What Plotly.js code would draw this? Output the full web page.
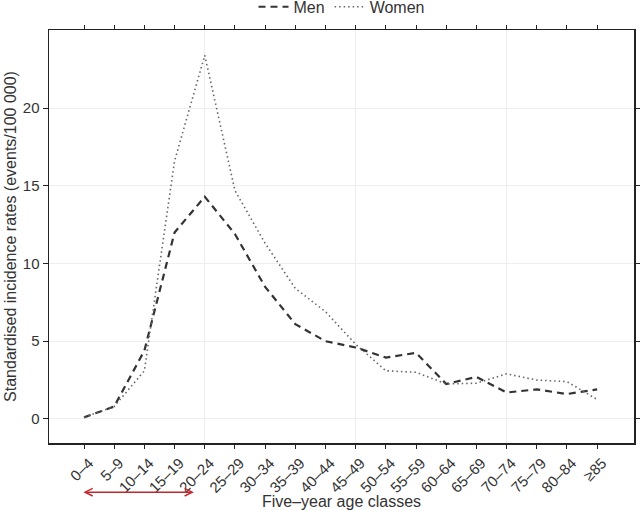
<!DOCTYPE html>
<html>
<head>
<meta charset="utf-8">
<script src="https://cdn.plot.ly/plotly-3.0.1.min.js"></script>
<style>body{margin:0;background:#fff}#chart{width:640px;height:510px}</style>
</head>
<body>
<div id="chart"></div>
<script>
// age classes and incidence rates per 100 000
const ageClasses = ['0–4','5–9','10–14','15–19','20–24','25–29','30–34','35–39','40–44','45–49',
  '50–54','55–59','60–64','65–69','70–74','75–79','80–84','≥85'];
const men   = [0.1, 0.8, 4.4, 12.0, 14.3, 11.9, 8.5, 6.1, 5.0, 4.6, 3.95, 4.25, 2.25, 2.7, 1.7, 1.9, 1.6, 1.9];
const women = [0.1, 0.8, 3.1, 16.6, 23.4, 14.7, 11.3, 8.4, 6.9, 4.8, 3.1, 3.0, 2.25, 2.3, 2.9, 2.5, 2.4, 1.25];
const gridCats = [4, 9, 14];
const idx = ageClasses.map((_, i) => i);

const FONT = 'Liberation Sans, Arial, sans-serif';

const traces = [
  // invisible trace so the grid axis is drawn
  {x: [0], y: [0], xaxis: 'x2', mode: 'markers', marker: {opacity: 0}, showlegend: false, hoverinfo: 'skip'},
  {x: idx, y: men, mode: 'lines', name: 'Men', line: {color: '#333', width: 2.2, dash: '7px,5px'}},
  {x: idx, y: women, mode: 'lines', name: 'Women', line: {color: '#666', width: 1.6, dash: '1.5px,3px'}}
];

const layout = {
  width: 640, height: 510,
  margin: {l: 49, r: 6, t: 30, b: 67, autoexpand: false},
  paper_bgcolor: '#fff', plot_bgcolor: '#fff',
  font: {family: FONT, color: '#333', size: 15},
  showlegend: true,
  legend: {orientation: 'h', x: 0.5, xanchor: 'center', y: 1.056, yanchor: 'middle',
    font: {size: 16}, itemwidth: 30},
  xaxis: {
    range: [-1.16, 18.22], tickvals: idx, ticktext: ageClasses, tickangle: -45,
    ticks: 'outside', ticklen: 4, tickcolor: '#222', showgrid: false, zeroline: false,
    showline: true, linecolor: '#222', linewidth: 1.5, mirror: 'ticks',
    tickfont: {size: 15, color: '#333'}, ticklabelshift: 5,
    title: {text: 'Five–year age classes', font: {size: 16}, standoff: 24}
  },
  xaxis2: {
    overlaying: 'x', range: [-1.16, 18.22], tickvals: gridCats, showticklabels: false,
    ticks: '', showgrid: true, gridcolor: '#eee', gridwidth: 1, zeroline: false, showline: false
  },
  yaxis: {
    range: [-1.55, 25.03], tickvals: [0, 5, 10, 15, 20], ticks: 'outside', ticklen: 5, tickcolor: '#222',
    showgrid: true, gridcolor: '#eee', zeroline: false,
    showline: true, linecolor: '#222', linewidth: 1.5, mirror: 'ticks',
    tickfont: {size: 15, color: '#333'},
    title: {text: 'Standardised incidence rates (events/100 000)', font: {size: 16}, standoff: 2}
  },
  annotations: [{
    xref: 'x', yref: 'paper', x: 3.64, y: -0.119,
    axref: 'x', ayref: 'pixel', ax: -0.07, ay: 0,
    showarrow: true, arrowside: 'end+start', arrowhead: 5, arrowsize: 1,
    arrowwidth: 1.5, arrowcolor: '#c0282d', text: ''
  }]
};

Plotly.newPlot('chart', traces, layout, {displayModeBar: false, staticPlot: true});
</script>
</body>
</html>
